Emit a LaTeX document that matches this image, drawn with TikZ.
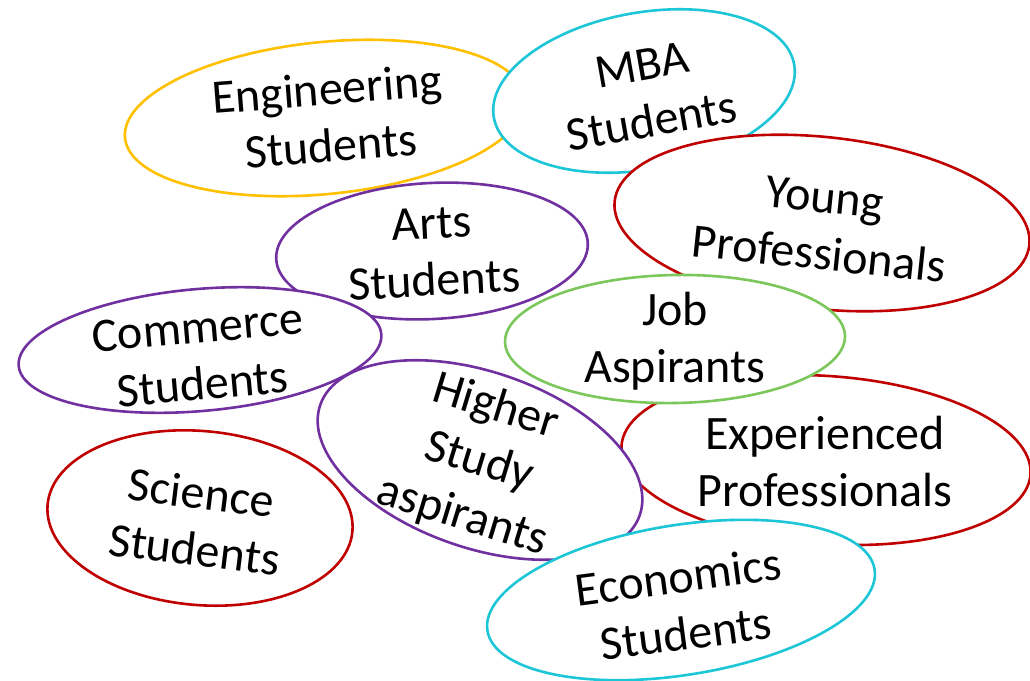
\documentclass[tikz,border=0pt]{standalone}
\usepackage{fontspec}
\setmainfont{Carlito}
\usepackage{tikz}
\usetikzlibrary{shapes.geometric}

\definecolor{gold}{RGB}{255,192,0}
\definecolor{teal}{RGB}{28,198,214}
\definecolor{darkred}{RGB}{192,0,0}
\definecolor{violet}{RGB}{112,48,160}
\definecolor{leaf}{RGB}{124,199,92}

\tikzset{
  bubble/.style={ellipse, fill=white, line width=2.6pt, inner sep=0pt},
  words/.style={align=center, inner sep=0pt, font=\fontsize{48}{57}\selectfont}
}

\begin{document}
\begin{tikzpicture}[x=1pt,y=-1pt]
\useasboundingbox (0,0) rectangle (1030,680);

\node[bubble, draw=gold, minimum width=402pt, minimum height=152pt, rotate=5.7] (eng) at (325,118) {};
\node[words, rotate=4.5] (engtext) at (329,117) {Engineering\\Students};

\node[bubble, draw=teal, minimum width=305pt, minimum height=157pt, rotate=10] (mba) at (644,91) {};
\node[words, rotate=10] (mbatext) at (647,93) {MBA\\Students};

\node[bubble, draw=darkred, minimum width=417pt, minimum height=172pt, rotate=-6] (young) at (822,223) {};
\node[words, rotate=-6] (youngtext) at (822,226) {Young\\Professionals};

\node[bubble, draw=violet, minimum width=312pt, minimum height=136pt, rotate=3] (arts) at (432,251) {};
\node[words, rotate=3] (artstext) at (433,252) {Arts\\Students};

\node[bubble, draw=darkred, minimum width=410pt, minimum height=168pt, rotate=-4] (exp) at (826,460) {};
\node[words] (exptext) at (825,462) {Experienced\\Professionals};

\node[bubble, draw=violet, minimum width=338pt, minimum height=176pt, rotate=-19] (higher) at (480,460) {};
\node[words, rotate=-17] (highertext) at (479,462) {Higher\\Study\\aspirants};

\node[bubble, draw=violet, minimum width=364pt, minimum height=122pt, rotate=5] (comm) at (200,350) {};
\node[words, rotate=5] (commtext) at (200,356) {Commerce\\Students};

\node[bubble, draw=leaf, minimum width=340pt, minimum height=128pt, rotate=1] (job) at (675,339) {};
\node[words] (jobtext) at (675,341) {Job\\Aspirants};

\node[bubble, draw=teal, minimum width=392pt, minimum height=150pt, rotate=9] (econ) at (681,600) {};
\node[words, rotate=7.5] (econtext) at (682,605) {Economics\\Students};

\node[bubble, draw=darkred, minimum width=306pt, minimum height=174pt, rotate=-5] (sci) at (200,518) {};
\node[words, rotate=-7] (scitext) at (198,521) {Science\\Students};

\end{tikzpicture}
\end{document}
